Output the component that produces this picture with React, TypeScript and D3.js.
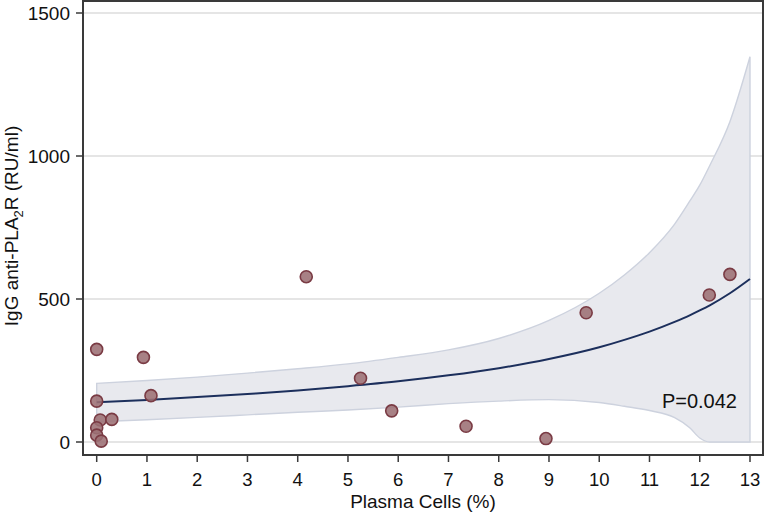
import React from "react";
import * as d3 from "d3";

const plasmaCells = [0, 0.93, 1.08, 0, 0.07, 0.3, 0, 0, 0.09, 4.17, 5.25, 5.87, 7.35, 8.94, 9.74, 12.19, 12.6];
const iggValues = [324, 296, 162, 143, 77, 79, 50, 24, 3, 578, 223, 109, 55, 12, 452, 514, 586];

const fitX = [0, 1, 2, 3, 4, 5, 6, 7, 8, 9, 10, 10.5, 11, 11.5, 11.8, 12, 12.2, 12.6, 13];
const fitY = [139, 147, 157, 168, 180, 195, 212, 233, 258, 290, 331, 357, 386, 420, 443, 460, 478, 520, 570];
const ciUpper = [205, 215, 227, 241, 256, 273, 296, 322, 362, 425, 520, 584, 662, 762, 842, 898, 967, 1120, 1347];
const ciLower = [71, 78, 86, 95, 104, 112, 122, 134, 143, 148, 138, 125, 110, 85, 50, 14, 0, 0, 0];

const xTicks = [0, 1, 2, 3, 4, 5, 6, 7, 8, 9, 10, 11, 12, 13];
const yTicks = [0, 500, 1000, 1500];

const W = 764;
const H = 512;
const plot = { left: 83, right: 763, top: 1, bottom: 455 };
const FONT = "'Liberation Sans', Arial, Helvetica, sans-serif";

export default function App() {
  const x = d3.scaleLinear().domain([0, 13]).range([96.7, 750]);
  const y = d3.scaleLinear().domain([0, 1500]).range([442, 13]);

  const idx = fitX.map((_, i) => i);
  const band = d3
    .area<number>()
    .x((i) => x(fitX[i]))
    .y0((i) => y(ciLower[i]))
    .y1((i) => y(ciUpper[i]))
    .curve(d3.curveMonotoneX)(idx) as string;
  const fitLine = d3
    .line<number>()
    .x((i) => x(fitX[i]))
    .y((i) => y(fitY[i]))
    .curve(d3.curveMonotoneX)(idx) as string;

  return (
    <svg
      width={W}
      height={H}
      style={{ position: "absolute", left: 0, top: 0, background: "#fff" }}
      fontFamily={FONT}
    >
      <rect x={0} y={0} width={W} height={H} fill="#fff" />
      {yTicks.map((t) => (
        <line key={"g" + t} x1={plot.left} x2={plot.right} y1={y(t)} y2={y(t)} stroke="#dcdcdc" strokeWidth={1.6} />
      ))}
      <path d={band} fill="#e8e9ee" stroke="#cdd2de" strokeWidth={1.4} />
      <path d={fitLine} fill="none" stroke="#1c2f5c" strokeWidth={2} />
      {plasmaCells.map((p, i) => (
        <circle
          key={"p" + i}
          cx={x(p)}
          cy={y(iggValues[i])}
          r={6}
          fill="#9c7074"
          fillOpacity={0.88}
          stroke="#7a3b44"
          strokeWidth={1.6}
        />
      ))}
      <rect
        x={plot.left}
        y={plot.top}
        width={plot.right - plot.left}
        height={plot.bottom - plot.top}
        fill="none"
        stroke="#3a3a3a"
        strokeWidth={2}
      />
      {yTicks.map((t) => (
        <g key={"yt" + t}>
          <line x1={plot.left - 7} x2={plot.left} y1={y(t)} y2={y(t)} stroke="#3a3a3a" strokeWidth={1.5} />
          <text x={70} y={y(t)} dy="0.35em" textAnchor="end" fontSize={19} fill="#111">
            {t}
          </text>
        </g>
      ))}
      {xTicks.map((t) => (
        <g key={"xt" + t}>
          <line x1={x(t)} x2={x(t)} y1={plot.bottom} y2={plot.bottom + 7} stroke="#3a3a3a" strokeWidth={1.5} />
          <text x={x(t)} y={486} textAnchor="middle" fontSize={18.5} fill="#111">
            {t}
          </text>
        </g>
      ))}
      <text x={(plot.left + plot.right) / 2} y={508} textAnchor="middle" fontSize={19} fill="#111">
        Plasma Cells (%)
      </text>
      <text
        transform={`translate(18, 226) rotate(-90)`}
        textAnchor="middle"
        fontSize={19}
        fill="#111"
      >
        IgG anti-PLA
        <tspan fontSize={13} dy={5}>2</tspan>
        <tspan dy={-5}>R (RU/ml)</tspan>
      </text>
      <text x={737} y={408} textAnchor="end" fontSize={20} fill="#111">
        P=0.042
      </text>
    </svg>
  );
}
